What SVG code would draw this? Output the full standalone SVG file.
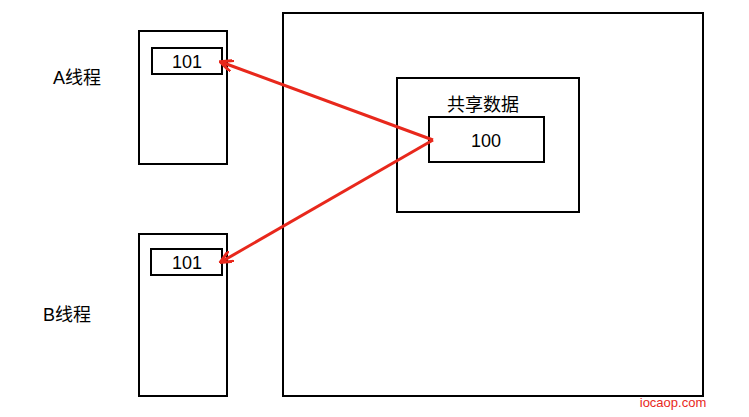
<svg xmlns="http://www.w3.org/2000/svg" width="749" height="417" viewBox="0 0 749 417">
<style>
.b{fill:none;stroke:#000;stroke-width:2}
.t{font-family:"Liberation Sans","Noto Sans CJK SC",sans-serif;font-size:18px;fill:#000}
.c{stroke:#e8281c;stroke-width:3;fill:none}
</style>
<defs><marker id="ah2" markerWidth="14" markerHeight="12" refX="12" refY="6" orient="auto" markerUnits="userSpaceOnUse"><path d="M0,0 L13,6 L0,12" fill="none" stroke="#e8281c" stroke-width="3"/></marker></defs>
<rect width="749" height="417" fill="#fff"/>
<g id="threadA"><rect class="b" x="139" y="31" width="88" height="133"/><rect class="b" x="152" y="48" width="70" height="26"/><text class="t" x="187" y="68" text-anchor="middle">101</text><text class="t" x="53" y="84">A线程</text></g>
<g id="threadB"><rect class="b" x="139" y="234" width="88" height="162"/><rect class="b" x="151" y="249" width="71" height="26"/><text class="t" x="187" y="269" text-anchor="middle">101</text><text class="t" x="43" y="321">B线程</text></g>
<g id="memory"><rect class="b" x="283" y="13" width="420" height="383"/></g>
<g id="shared"><rect class="b" x="397" y="78" width="182" height="134"/><text class="t" x="483" y="111" text-anchor="middle">共享数据</text><rect class="b" x="429" y="117" width="115" height="45"/><text class="t" x="486" y="147" text-anchor="middle" font-size="20">100</text></g>
<g id="connectors"><path class="c" d="M433,140 L221,62" marker-end="url(#ah2)"/><path class="c" d="M433,140 L221,262" marker-end="url(#ah2)"/></g>
<text x="673" y="407" text-anchor="middle" font-family="Liberation Sans,sans-serif" font-size="13" fill="#e8281c">iocaop.com</text>
</svg>
